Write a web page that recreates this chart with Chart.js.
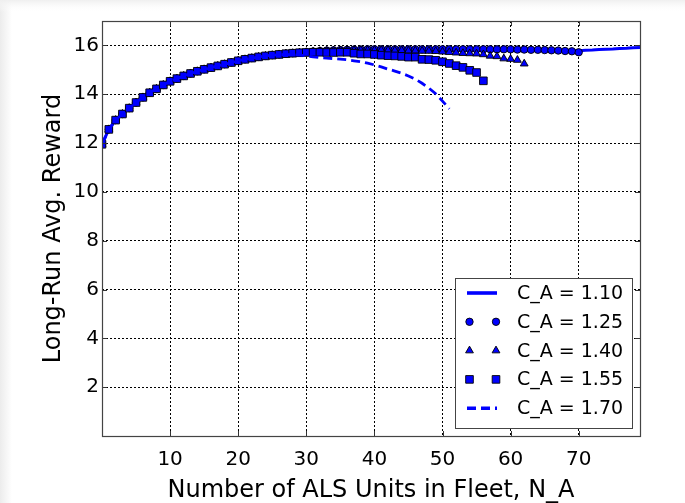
<!DOCTYPE html>
<html>
<head>
<meta charset="utf-8">
<script src="https://cdn.jsdelivr.net/npm/chart.js@4.4.0/dist/chart.umd.min.js"></script>
<style>
html, body { margin: 0; padding: 0; background: #fff; }
</style>
</head>
<body>
<canvas id="myChart" width="685" height="503"></canvas>
<script>
// values, x = N_A (0, 1, 2, ...)
var ca110 = [11.95, 12.56, 12.94, 13.19, 13.43, 13.66, 13.87, 14.06, 14.22, 14.38,
    14.53, 14.64, 14.75, 14.85, 14.94, 15.02, 15.09, 15.16, 15.23, 15.30,
    15.37, 15.43, 15.48, 15.53, 15.57, 15.60, 15.63, 15.66, 15.68, 15.70,
    15.72, 15.74, 15.76, 15.77, 15.78, 15.78, 15.79, 15.79, 15.80, 15.80,
    15.80, 15.80, 15.80, 15.80, 15.80, 15.80, 15.80, 15.80, 15.80, 15.80,
    15.80, 15.80, 15.80, 15.80, 15.80, 15.80, 15.80, 15.80, 15.80, 15.80,
    15.80, 15.80, 15.79, 15.79, 15.79, 15.79, 15.79, 15.78, 15.78, 15.78,
    15.78, 15.80, 15.81, 15.83, 15.84, 15.85, 15.87, 15.88, 15.90, 15.91];
var ca125 = [11.95, 12.56, 12.94, 13.19, 13.43, 13.66, 13.87, 14.06, 14.22, 14.38,
    14.53, 14.64, 14.75, 14.85, 14.94, 15.02, 15.09, 15.16, 15.23, 15.30,
    15.37, 15.43, 15.48, 15.53, 15.57, 15.60, 15.63, 15.66, 15.68, 15.70,
    15.72, 15.75, 15.77, 15.79, 15.80, 15.81, 15.82, 15.83, 15.83, 15.84,
    15.84, 15.84, 15.84, 15.84, 15.84, 15.84, 15.84, 15.84, 15.84, 15.84,
    15.84, 15.84, 15.84, 15.84, 15.84, 15.84, 15.84, 15.84, 15.84, 15.84,
    15.84, 15.83, 15.83, 15.82, 15.82, 15.81, 15.80, 15.79, 15.77, 15.76,
    15.72];
var ca140 = [11.95, 12.56, 12.94, 13.19, 13.43, 13.66, 13.87, 14.06, 14.22, 14.38,
    14.53, 14.64, 14.75, 14.85, 14.94, 15.02, 15.09, 15.16, 15.23, 15.30,
    15.37, 15.43, 15.48, 15.53, 15.57, 15.60, 15.63, 15.66, 15.68, 15.70,
    15.72, 15.74, 15.76, 15.77, 15.78, 15.79, 15.79, 15.80, 15.80, 15.80,
    15.80, 15.80, 15.80, 15.79, 15.79, 15.78, 15.78, 15.77, 15.77, 15.76,
    15.74, 15.72, 15.70, 15.68, 15.67, 15.66, 15.63, 15.57, 15.55, 15.46,
    15.44, 15.40, 15.25];
var ca155 = [11.95, 12.56, 12.94, 13.19, 13.43, 13.66, 13.87, 14.06, 14.22, 14.38,
    14.53, 14.64, 14.75, 14.85, 14.94, 15.02, 15.09, 15.16, 15.23, 15.30,
    15.37, 15.43, 15.48, 15.53, 15.57, 15.60, 15.63, 15.66, 15.68, 15.70,
    15.71, 15.72, 15.72, 15.71, 15.71, 15.72, 15.72, 15.68, 15.65, 15.65,
    15.63, 15.60, 15.58, 15.57, 15.55, 15.52, 15.52, 15.43, 15.42, 15.39,
    15.33, 15.26, 15.17, 15.10, 14.98, 14.89, 14.55];
var ca170 = [11.95, 12.56, 12.94, 13.19, 13.43, 13.66, 13.87, 14.06, 14.22, 14.38,
    14.53, 14.64, 14.75, 14.85, 14.94, 15.02, 15.09, 15.16, 15.23, 15.30,
    15.37, 15.43, 15.48, 15.53, 15.57, 15.60, 15.62, 15.63, 15.62, 15.60,
    15.57, 15.53, 15.50, 15.48, 15.46, 15.44, 15.41, 15.37, 15.33, 15.27,
    15.20, 15.12, 15.03, 14.95, 14.86, 14.75, 14.62, 14.45, 14.25, 14.02,
    13.72, 13.40];

var seriesLabels = ['C_A = 1.10', 'C_A = 1.25', 'C_A = 1.40', 'C_A = 1.55', 'C_A = 1.70'];
var xTicks = [10, 20, 30, 40, 50, 60, 70];
var yTicks = [2, 4, 6, 8, 10, 12, 14, 16];
var xTitle = 'Number of ALS Units in Fleet, N_A';
var yTitle = 'Long-Run Avg. Reward';

var BLUE = '#0000ff';
var FONT = 'DejaVu Sans';

function toPoints(arr) {
    return arr.map(function (v, i) { return { x: i, y: v }; });
}

// paint the page-like background (light grey edge on top/left)
var bgPlugin = {
    id: 'bg',
    beforeDraw: function (chart) {
        var c = chart.ctx;
        c.save();
        c.fillStyle = '#fff';
        c.fillRect(0, 0, chart.width, chart.height);
        var g = c.createLinearGradient(0, 0, 12, 0);
        g.addColorStop(0, '#ececec');
        g.addColorStop(1, '#ffffff');
        c.fillStyle = g;
        c.fillRect(0, 0, 12, chart.height);
        var g2 = c.createLinearGradient(0, 0, 0, 12);
        g2.addColorStop(0, '#efefef');
        g2.addColorStop(1, 'rgba(255,255,255,0)');
        c.fillStyle = g2;
        c.fillRect(0, 0, chart.width, 12);
        c.restore();
    }
};

// frame + inward ticks on all four sides (matplotlib style)
var framePlugin = {
    id: 'frame',
    afterDatasetsDraw: function (chart) {
        var c = chart.ctx, a = chart.chartArea;
        var xs = chart.scales.x, ys = chart.scales.y;
        c.save();
        c.strokeStyle = '#333';
        c.lineWidth = 1;
        c.beginPath();
        xTicks.forEach(function (v) {
            var px = Math.round(xs.getPixelForValue(v)) + 0.5;
            c.moveTo(px, a.bottom); c.lineTo(px, a.bottom - 5);
            c.moveTo(px, a.top); c.lineTo(px, a.top + 5);
        });
        yTicks.forEach(function (v) {
            var py = Math.round(ys.getPixelForValue(v)) + 0.5;
            c.moveTo(a.left, py); c.lineTo(a.left + 5, py);
            c.moveTo(a.right, py); c.lineTo(a.right - 5, py);
        });
        c.stroke();
        c.strokeStyle = '#444';
        c.lineWidth = 1.2;
        c.strokeRect(Math.round(a.left) + 0.5, Math.round(a.top) + 0.5,
            Math.round(a.right - a.left), Math.round(a.bottom - a.top));
        c.restore();
    }
};

function drawMarker(c, style, x, y, r) {
    c.beginPath();
    if (style === 'circle') {
        c.arc(x, y, r, 0, Math.PI * 2);
    } else if (style === 'triangle') {
        var rad = 0;
        c.moveTo(x + Math.sin(rad) * r, y - Math.cos(rad) * r);
        rad += Math.PI * 2 / 3;
        c.lineTo(x + Math.sin(rad) * r, y - Math.cos(rad) * r);
        rad += Math.PI * 2 / 3;
        c.lineTo(x + Math.sin(rad) * r, y - Math.cos(rad) * r);
        c.closePath();
    } else if (style === 'rect') {
        var s = Math.SQRT1_2 * r;
        c.rect(x - s, y - s, 2 * s, 2 * s);
    }
    c.fillStyle = BLUE;
    c.fill();
    c.lineWidth = 0.9;
    c.strokeStyle = '#000';
    c.stroke();
}

// legend box in the lower right of the plot
var legendPlugin = {
    id: 'boxLegend',
    afterDraw: function (chart) {
        var c = chart.ctx;
        var bx = 455, by = 278, bw = 177, bh = 150;
        c.save();
        c.fillStyle = '#fff';
        c.fillRect(bx, by, bw, bh);
        c.strokeStyle = '#444';
        c.lineWidth = 1;
        c.strokeRect(bx + 0.5, by + 0.5, bw, bh);
        c.font = '19px ' + FONT;
        c.textBaseline = 'middle';
        c.textAlign = 'left';
        chart.data.datasets.forEach(function (ds, i) {
            var ry = 293 + i * 28.8;
            if (ds.showLine) {
                c.beginPath();
                c.setLineDash(ds.borderDash || []);
                c.strokeStyle = BLUE;
                c.lineWidth = ds.borderWidth + 0.6;
                c.moveTo(467, ry); c.lineTo(497, ry);
                c.stroke();
                c.setLineDash([]);
            } else {
                drawMarker(c, ds.pointStyle, 469.5, ry, ds.pointRadius);
                drawMarker(c, ds.pointStyle, 496, ry, ds.pointRadius);
            }
            c.fillStyle = '#000';
            c.fillText(ds.label, 517, ry + 1);
        });
        c.restore();
    }
};

var ctx = document.getElementById('myChart').getContext('2d');
var myChart = new Chart(ctx, {
    type: 'scatter',
    data: {
        datasets: [{
            label: seriesLabels[0],
            data: toPoints(ca110),
            showLine: true,
            borderColor: BLUE,
            borderWidth: 3,
            pointRadius: 0,
            order: 5
        }, {
            label: seriesLabels[1],
            data: toPoints(ca125),
            showLine: false,
            pointStyle: 'circle',
            pointRadius: 3.7,
            backgroundColor: BLUE,
            borderColor: '#000',
            borderWidth: 0.9,
            order: 4
        }, {
            label: seriesLabels[2],
            data: toPoints(ca140),
            showLine: false,
            pointStyle: 'triangle',
            pointRadius: 4.5,
            backgroundColor: BLUE,
            borderColor: '#000',
            borderWidth: 0.9,
            order: 3
        }, {
            label: seriesLabels[3],
            data: toPoints(ca155),
            showLine: false,
            pointStyle: 'rect',
            pointRadius: 5.4,
            backgroundColor: BLUE,
            borderColor: '#000',
            borderWidth: 0.9,
            order: 2
        }, {
            label: seriesLabels[4],
            data: toPoints(ca170),
            showLine: true,
            borderColor: BLUE,
            borderWidth: 2.8,
            borderDash: [9, 5],
            pointRadius: 0,
            order: 1
        }]
    },
    options: {
        responsive: false,
        animation: false,
        layout: { padding: { top: 21, right: 45, left: 0, bottom: 0 } },
        plugins: {
            legend: { display: false },
            tooltip: { enabled: false }
        },
        scales: {
            x: {
                type: 'linear',
                min: 0,
                max: 79,
                afterBuildTicks: function (s) { s.ticks = xTicks.map(function (v) { return { value: v }; }); },
                afterFit: function (s) { s.height = 67; },
                grid: { color: '#000', lineWidth: 1, drawTicks: false },
                border: { display: false, dash: [2, 2] },
                ticks: { color: '#000', font: { family: FONT, size: 20 }, padding: 12, maxRotation: 0 },
                title: { display: true, text: xTitle, color: '#000', font: { family: FONT, size: 24, lineHeight: 1.0 }, padding: { top: 0, bottom: 0 } }
            },
            y: {
                type: 'linear',
                min: 0,
                max: 17,
                afterBuildTicks: function (s) { s.ticks = yTicks.map(function (v) { return { value: v }; }); },
                afterFit: function (s) { s.width = 102; },
                grid: { color: '#000', lineWidth: 1, drawTicks: false },
                border: { display: false, dash: [2, 2] },
                ticks: { color: '#000', font: { family: FONT, size: 20 }, padding: 3 },
                title: { display: true, text: yTitle, color: '#000', font: { family: FONT, size: 24, lineHeight: 1.0 }, padding: { top: 42, bottom: 0 } }
            }
        }
    },
    plugins: [bgPlugin, framePlugin, legendPlugin]
});
</script>
</body>
</html>
